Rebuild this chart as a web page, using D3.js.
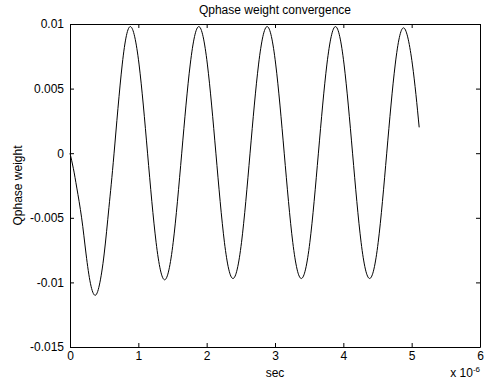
<!DOCTYPE html>
<html>
<head>
<meta charset="utf-8">
<script src="https://cdn.jsdelivr.net/npm/d3@7"></script>
<style>
  html, body { margin: 0; padding: 0; background: #fff; }
  svg { display: block; font-family: "Liberation Sans", Arial, sans-serif; }
</style>
</head>
<body>
<div id="chart"></div>
<script>
// time in units of 1e-6 s
const timeUs = [
  0, 0.05, 0.1, 0.17, 0.235, 0.3, 0.366, 0.43, 0.5, 0.57, 0.645, 0.765, 0.885,
  1.01, 1.135, 1.26, 1.385, 1.51, 1.635, 1.76, 1.885,
  2.01, 2.135, 2.26, 2.385, 2.51, 2.635, 2.76, 2.885,
  3.01, 3.135, 3.26, 3.385, 3.51, 3.635, 3.76, 3.885,
  4.01, 4.135, 4.26, 4.385, 4.51, 4.635, 4.76, 4.885,
  5.01, 5.11
];
const qphaseWeight = [
  0, -0.0012, -0.0027, -0.005, -0.0078, -0.0101, -0.011, -0.0102, -0.0078, -0.0042, 0, 0.0069, 0.0098,
  0.0069, 0, -0.0069, -0.0098, -0.0069, 0, 0.0069, 0.0098,
  0.0069, 0, -0.0069, -0.0097, -0.0069, 0, 0.0069, 0.0098,
  0.0069, 0, -0.0069, -0.0097, -0.0069, 0, 0.0069, 0.0098,
  0.0069, 0, -0.0069, -0.0097, -0.0069, 0, 0.0069, 0.0097,
  0.0069, 0.002
];
const xTicks = [0, 1, 2, 3, 4, 5, 6];
const yTicks = [0.01, 0.005, 0, -0.005, -0.01, -0.015];
const yTickLabels = ['0.01', '0.005', '0', '-0.005', '-0.01', '-0.015'];

const width = 498, height = 385;
const margin = { top: 24, right: 18, bottom: 38, left: 70 };
const innerW = width - margin.left - margin.right;
const innerH = height - margin.top - margin.bottom;

const svg = d3.select('#chart').append('svg')
  .attr('width', width)
  .attr('height', height);

svg.append('rect').attr('width', width).attr('height', height).attr('fill', '#fff');

const g = svg.append('g').attr('transform', `translate(${margin.left},${margin.top})`);

const x = d3.scaleLinear().domain([0, 6]).range([0, innerW]);
const y = d3.scaleLinear().domain([-0.015, 0.01]).range([innerH, 0]);

// Axes (ticks point inward, box on)
const styleAxis = sel => {
  sel.attr('font-family', '"Liberation Sans", Arial, sans-serif').attr('font-size', 12);
  sel.selectAll('path.domain').attr('stroke', '#000').attr('stroke-width', 1);
  sel.selectAll('line').attr('stroke', '#000');
  sel.selectAll('text').attr('fill', '#000');
};

g.append('g')
  .attr('transform', `translate(0,${innerH})`)
  .call(d3.axisBottom(x).tickValues(xTicks).tickFormat(d3.format('d'))
    .tickSize(-4).tickSizeOuter(0).tickPadding(4.5))
  .call(styleAxis);

g.append('g')
  .call(d3.axisLeft(y).tickValues(yTicks).tickFormat((d, i) => yTickLabels[i])
    .tickSize(-4).tickSizeOuter(0).tickPadding(6))
  .call(styleAxis);

g.append('g')
  .call(d3.axisTop(x).tickValues(xTicks).tickFormat('').tickSize(-4).tickSizeOuter(0))
  .call(styleAxis);

g.append('g')
  .attr('transform', `translate(${innerW},0)`)
  .call(d3.axisRight(y).tickValues(yTicks).tickFormat('').tickSize(-4).tickSizeOuter(0))
  .call(styleAxis);

// Curve
const data = timeUs.map((t, i) => ({ t, v: qphaseWeight[i] }));
const line = d3.line()
  .x(d => x(d.t))
  .y(d => y(d.v))
  .curve(d3.curveNatural);

g.append('path')
  .datum(data)
  .attr('fill', 'none')
  .attr('stroke', '#000')
  .attr('stroke-width', 1)
  .attr('d', line);

// Title and labels
svg.append('text')
  .attr('x', margin.left + innerW / 2)
  .attr('y', 14)
  .attr('text-anchor', 'middle')
  .attr('font-size', 12)
  .text('Qphase weight convergence');

svg.append('text')
  .attr('x', margin.left + innerW / 2)
  .attr('y', 376.5)
  .attr('text-anchor', 'middle')
  .attr('font-size', 12)
  .text('sec');

svg.append('text')
  .attr('transform', `translate(22,${margin.top + innerH / 2}) rotate(-90)`)
  .attr('text-anchor', 'middle')
  .attr('font-size', 12)
  .text('Qphase weight');

const expo = svg.append('text')
  .attr('x', margin.left + innerW)
  .attr('y', 376.5)
  .attr('text-anchor', 'end')
  .attr('font-size', 12);
expo.append('tspan').text('x 10');
expo.append('tspan').attr('dy', -5).attr('font-size', 8).text('-6');
</script>
</body>
</html>
